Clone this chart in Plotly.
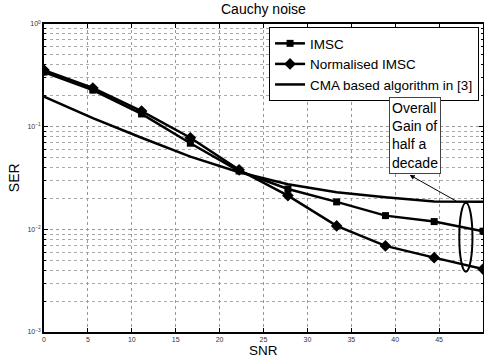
import plotly.graph_objects as go

snr = [0, 5.56, 11.11, 16.67, 22.22, 27.78, 33.33, 38.89, 44.44, 50]
imsc = [0.34, 0.227, 0.133, 0.069, 0.037, 0.0247, 0.0185, 0.0136, 0.0119, 0.0096]
norm_imsc = [0.356, 0.238, 0.142, 0.078, 0.038, 0.0213, 0.0108, 0.0069, 0.0053, 0.0041]
cma = [0.196, 0.121, 0.078, 0.051, 0.036, 0.0275, 0.023, 0.0205, 0.0187, 0.0186]

ytick_vals = [1e-3, 1e-2, 1e-1, 1]
ytick_text = ["10<sup>−3</sup>", "10<sup>−2</sup>", "10<sup>−1</sup>", "10<sup>0</sup>"]

FONT = "Liberation Sans, Arial, sans-serif"

fig = go.Figure()
fig.add_trace(go.Scatter(x=snr, y=imsc, name="IMSC", mode="lines+markers",
                         line=dict(color="black", width=2.5),
                         marker=dict(symbol="square", size=7, color="black")))
fig.add_trace(go.Scatter(x=snr, y=norm_imsc, name="Normalised IMSC", mode="lines+markers",
                         line=dict(color="black", width=2.5),
                         marker=dict(symbol="diamond", size=9, color="black")))
fig.add_trace(go.Scatter(x=snr, y=cma, name="CMA based algorithm in [3]", mode="lines",
                         line=dict(color="black", width=2.5)))

# ellipse highlighting the gain at high SNR
fig.add_shape(type="circle", xref="x domain", yref="y domain",
              x0=0.946, x1=0.976, y0=0.196, y1=0.42,
              line=dict(color="black", width=2))

# text box
fig.add_annotation(x=0.844, y=0.637, xref="x domain", yref="y domain", showarrow=False,
                   xanchor="center", yanchor="middle",
                   text="Overall<br>Gain of<br>half a<br>decade", align="left",
                   font=dict(family=FONT, size=14, color="black"),
                   bordercolor="#444", borderwidth=1, borderpad=2, bgcolor="white")
# arrow from ellipse to the text box
fig.add_annotation(x=0.833, y=0.51, xref="x domain", yref="y domain",
                   ax=48, ay=27, text="", showarrow=True,
                   arrowhead=2, arrowsize=1, arrowwidth=1, arrowcolor="black")

# titles
fig.add_annotation(x=0.5, y=1.0487, xref="x domain", yref="paper", yanchor="middle",
                   xanchor="center", showarrow=False, text="Cauchy noise",
                   font=dict(family=FONT, size=14, color="black"))
fig.add_annotation(x=0.5, y=-0.0595, xref="x domain", yref="paper", yanchor="middle",
                   xanchor="center", showarrow=False, text="SNR",
                   font=dict(family=FONT, size=13.5, color="black"))
fig.add_annotation(x=-0.068, y=0.5, xref="paper", yref="paper", xanchor="center",
                   yanchor="middle", textangle=-90, showarrow=False, text="SER",
                   font=dict(family=FONT, size=14, color="black"))

fig.update_layout(
    width=484, height=357,
    margin=dict(l=44, r=1, t=24, b=25, autoexpand=False),
    paper_bgcolor="white", plot_bgcolor="white",
    font=dict(family=FONT, size=12, color="black"),
    showlegend=True,
    legend=dict(x=0.991, y=0.99, xanchor="right", yanchor="top",
                bordercolor="black", borderwidth=1, bgcolor="white",
                font=dict(size=13.5, color="black"), tracegroupgap=0,
                itemwidth=30),
)
fig.update_xaxes(range=[0, 50], dtick=5, showline=True, linecolor="black", linewidth=1.5,
                 mirror="ticks", ticks="inside", ticklen=4, tickcolor="black",
                 showgrid=True, gridcolor="#999", griddash="dot", gridwidth=1,
                 tickfont=dict(size=7, color="#333"), zeroline=False, automargin=False)
fig.update_yaxes(type="log", range=[-3, 0], tickvals=ytick_vals, ticktext=ytick_text,
                 showline=True, linecolor="black", linewidth=1.5,
                 mirror="ticks", ticks="inside", ticklen=4, tickcolor="black",
                 showgrid=True, gridcolor="#999", griddash="dot", gridwidth=1,
                 minor=dict(dtick="D1", showgrid=True, gridcolor="#aaa", griddash="dot",
                            ticks="inside", ticklen=2, tickcolor="black"),
                 tickfont=dict(size=7, color="#333"), zeroline=False, automargin=False)

fig.write_html("out.html", config={"displayModeBar": False},
               post_script="document.body.style.margin='0';document.body.style.overflow='hidden';")
